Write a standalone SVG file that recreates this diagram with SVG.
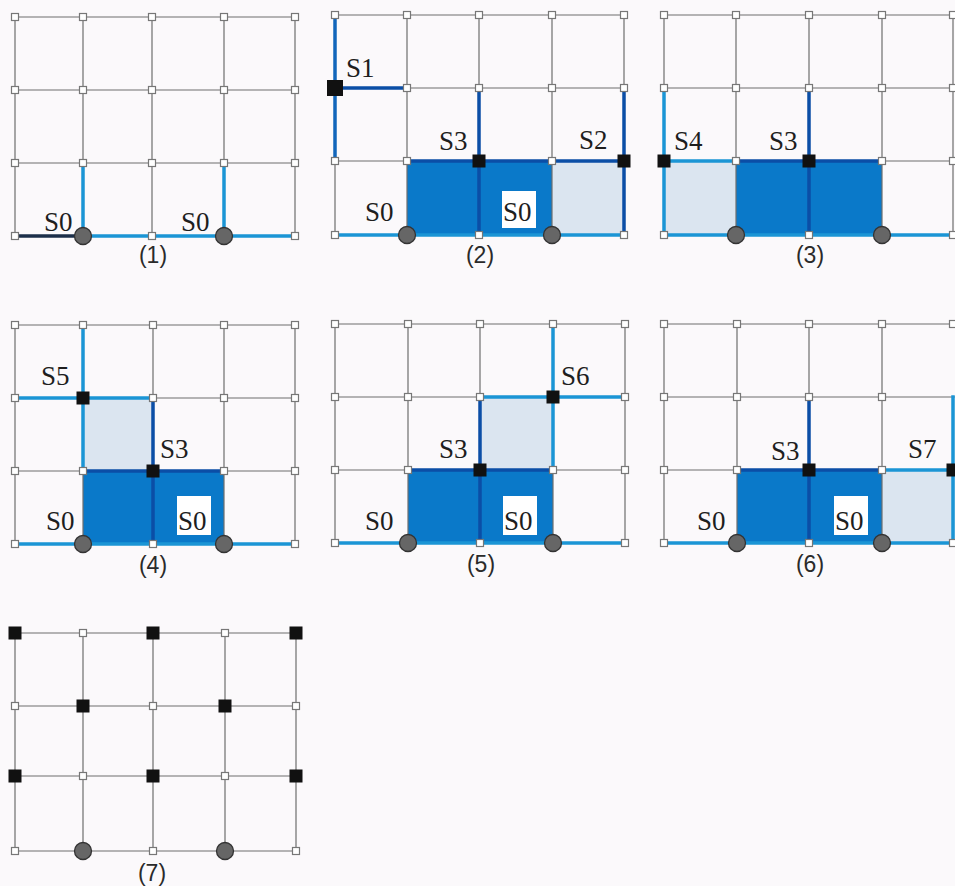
<svg xmlns="http://www.w3.org/2000/svg" xmlns:xlink="http://www.w3.org/1999/xlink" width="955" height="886" viewBox="0 0 955 886">
<style>
.bg{fill:#fbf9fb}
.grid{fill:none;stroke:#6e6e6e;stroke-width:1.2}
.lb{fill:none;stroke:#1b95d5;stroke-width:3.5;stroke-linecap:square}
.db{fill:none;stroke:#0b4ea6;stroke-width:3.5;stroke-linecap:square}
.nv{fill:none;stroke:#1c2f4a;stroke-width:3.5}
.df{fill:#0a79c9}
.lf{fill:#dbe5f0}
.s{font-family:"Liberation Serif","Times New Roman",serif;font-size:27px;fill:#1e1e1e}
.c{font-family:"Liberation Sans",Arial,sans-serif;font-size:23px;fill:#2a2a2a;text-anchor:middle}
.box{fill:#ffffff}
</style>
<defs>
<rect id="w" x="-3.5" y="-3.5" width="7" height="7" fill="#ffffff" stroke="#777" stroke-width="1.2"/>
<rect id="b" x="-6.5" y="-6.5" width="13" height="13" fill="#111"/>
<rect id="bb" x="-8" y="-8" width="16" height="16" fill="#111"/>
<circle id="o" r="8.5" fill="#666" stroke="#333" stroke-width="1.3"/>
</defs>
<rect class="bg" x="0" y="0" width="955" height="886"/>

<!-- Panel 1 -->
<g id="panel1">
<g id="p1-connectors">
<path class="grid" d="M15 17H295M15 90H295M15 163H295M15 236H295M15 17V236M83 17V236M152 17V236M224 17V236M295 17V236"/>
<path class="nv" d="M15 236H83"/>
<path class="lb" d="M83 163V236H295M224 163V236"/>
</g>
<g id="p1-nodes">
<g id="p1-r0"><use xlink:href="#w" x="15" y="17"/><use xlink:href="#w" x="83" y="17"/><use xlink:href="#w" x="152" y="17"/><use xlink:href="#w" x="224" y="17"/><use xlink:href="#w" x="295" y="17"/></g>
<g id="p1-r1"><use xlink:href="#w" x="15" y="90"/><use xlink:href="#w" x="83" y="90"/><use xlink:href="#w" x="152" y="90"/><use xlink:href="#w" x="224" y="90"/><use xlink:href="#w" x="295" y="90"/></g>
<g id="p1-r2"><use xlink:href="#w" x="15" y="163"/><use xlink:href="#w" x="83" y="163"/><use xlink:href="#w" x="152" y="163"/><use xlink:href="#w" x="224" y="163"/><use xlink:href="#w" x="295" y="163"/></g>
<g id="p1-r3"><use xlink:href="#w" x="15" y="236"/><use xlink:href="#w" x="152" y="236"/><use xlink:href="#w" x="295" y="236"/></g>
<g id="p1-s0a"><use xlink:href="#o" x="83" y="236"/><text class="s" x="44" y="231">S0</text></g>
<g id="p1-s0b"><use xlink:href="#o" x="224" y="236"/><text class="s" x="181" y="231">S0</text></g>
</g>
<text class="c" x="153" y="263">(1)</text>
</g>

<!-- Panel 2 -->
<g id="panel2">
<rect class="df" x="407" y="161" width="145" height="74"/>
<rect class="lf" x="552" y="161" width="72" height="74"/>
<g id="p2-connectors">
<path class="grid" d="M335 15H624M335 88H624M335 161H624M335 235H624M335 15V235M407 15V235M479 15V235M552 15V235M624 15V235"/>
<path class="lb" d="M335 235H624"/>
<path stroke="#1266bb" stroke-width="3.5" fill="none" d="M335 15V161"/>
<path class="db" d="M335 88H407M479 88V235M407 161H624M624 88V235"/>
</g>
<g id="p2-nodes">
<g id="p2-r0"><use xlink:href="#w" x="335" y="15"/><use xlink:href="#w" x="407" y="15"/><use xlink:href="#w" x="479" y="15"/><use xlink:href="#w" x="552" y="15"/><use xlink:href="#w" x="624" y="15"/></g>
<g id="p2-r1"><use xlink:href="#w" x="407" y="88"/><use xlink:href="#w" x="479" y="88"/><use xlink:href="#w" x="552" y="88"/><use xlink:href="#w" x="624" y="88"/></g>
<g id="p2-r2"><use xlink:href="#w" x="335" y="161"/><use xlink:href="#w" x="407" y="161"/><use xlink:href="#w" x="552" y="161"/></g>
<g id="p2-r3"><use xlink:href="#w" x="335" y="235"/><use xlink:href="#w" x="479" y="235"/><use xlink:href="#w" x="624" y="235"/></g>
<g id="p2-s1"><use xlink:href="#bb" x="335" y="88"/><text class="s" x="346" y="77">S1</text></g>
<g id="p2-s3"><use xlink:href="#b" x="479" y="161"/><text class="s" x="439" y="150">S3</text></g>
<g id="p2-s2"><use xlink:href="#b" x="624" y="161"/><text class="s" x="579" y="149">S2</text></g>
<g id="p2-s0a"><use xlink:href="#o" x="407" y="235"/><text class="s" x="365" y="221">S0</text></g>
<g id="p2-s0b"><use xlink:href="#o" x="552" y="235"/><rect class="box" x="502" y="191" width="34" height="37"/><text class="s" x="503" y="221">S0</text></g>
</g>
<text class="c" x="480" y="263">(2)</text>
</g>

<!-- Panel 3 -->
<g id="panel3">
<rect class="lf" x="664" y="161" width="72" height="74"/>
<rect class="df" x="736" y="161" width="146" height="74"/>
<g id="p3-connectors">
<path class="grid" d="M664 15H955M664 88H955M664 161H955M664 235H955M664 15V235M736 15V235M809 15V235M882 15V235M953 15V235"/>
<path class="lb" d="M664 88V235H955M664 161H736"/>
<path class="db" d="M809 88V235M736 161H882"/>
</g>
<g id="p3-nodes">
<g id="p3-r0"><use xlink:href="#w" x="664" y="15"/><use xlink:href="#w" x="736" y="15"/><use xlink:href="#w" x="809" y="15"/><use xlink:href="#w" x="882" y="15"/><use xlink:href="#w" x="953" y="15"/></g>
<g id="p3-r1"><use xlink:href="#w" x="664" y="88"/><use xlink:href="#w" x="736" y="88"/><use xlink:href="#w" x="809" y="88"/><use xlink:href="#w" x="882" y="88"/><use xlink:href="#w" x="953" y="88"/></g>
<g id="p3-r2"><use xlink:href="#w" x="736" y="161"/><use xlink:href="#w" x="882" y="161"/><use xlink:href="#w" x="953" y="161"/></g>
<g id="p3-r3"><use xlink:href="#w" x="664" y="235"/><use xlink:href="#w" x="809" y="235"/><use xlink:href="#w" x="953" y="235"/></g>
<g id="p3-s4"><use xlink:href="#b" x="664" y="161"/><text class="s" x="674" y="150">S4</text></g>
<g id="p3-s3"><use xlink:href="#b" x="809" y="161"/><text class="s" x="769" y="150">S3</text></g>
<g id="p3-o1"><use xlink:href="#o" x="736" y="235"/></g>
<g id="p3-o2"><use xlink:href="#o" x="882" y="235"/></g>
</g>
<text class="c" x="810" y="263">(3)</text>
</g>

<!-- Panel 4 -->
<g id="panel4">
<rect class="lf" x="83" y="398" width="70" height="73"/>
<rect class="df" x="83" y="471" width="141" height="73"/>
<g id="p4-connectors">
<path class="grid" d="M15 325H295M15 398H295M15 471H295M15 544H295M15 325V544M83 325V544M153 325V544M224 325V544M295 325V544"/>
<path class="lb" d="M83 325V471M15 398H153M15 544H295"/>
<path class="db" d="M153 398V544M83 471H224"/>
</g>
<g id="p4-nodes">
<g id="p4-r0"><use xlink:href="#w" x="15" y="325"/><use xlink:href="#w" x="83" y="325"/><use xlink:href="#w" x="153" y="325"/><use xlink:href="#w" x="224" y="325"/><use xlink:href="#w" x="295" y="325"/></g>
<g id="p4-r1"><use xlink:href="#w" x="15" y="398"/><use xlink:href="#w" x="153" y="398"/><use xlink:href="#w" x="224" y="398"/><use xlink:href="#w" x="295" y="398"/></g>
<g id="p4-r2"><use xlink:href="#w" x="15" y="471"/><use xlink:href="#w" x="83" y="471"/><use xlink:href="#w" x="224" y="471"/><use xlink:href="#w" x="295" y="471"/></g>
<g id="p4-r3"><use xlink:href="#w" x="15" y="544"/><use xlink:href="#w" x="153" y="544"/><use xlink:href="#w" x="295" y="544"/></g>
<g id="p4-s5"><use xlink:href="#b" x="83" y="398"/><text class="s" x="41" y="385">S5</text></g>
<g id="p4-s3"><use xlink:href="#b" x="153" y="471"/><text class="s" x="160" y="458">S3</text></g>
<g id="p4-s0a"><use xlink:href="#o" x="83" y="544"/><text class="s" x="46" y="530">S0</text></g>
<g id="p4-s0b"><use xlink:href="#o" x="224" y="544"/><rect class="box" x="177" y="496" width="34" height="39"/><text class="s" x="178" y="530">S0</text></g>
</g>
<text class="c" x="153" y="573">(4)</text>
</g>

<!-- Panel 5 -->
<g id="panel5">
<rect class="lf" x="480" y="397" width="73" height="73"/>
<rect class="df" x="408" y="470" width="145" height="73"/>
<g id="p5-connectors">
<path class="grid" d="M335 324H625M335 397H625M335 470H625M335 543H625M335 324V543M408 324V543M480 324V543M553 324V543M625 324V543"/>
<path class="lb" d="M553 324V470M480 397H625M335 543H625"/>
<path class="db" d="M480 397V543M408 470H553"/>
</g>
<g id="p5-nodes">
<g id="p5-r0"><use xlink:href="#w" x="335" y="324"/><use xlink:href="#w" x="408" y="324"/><use xlink:href="#w" x="480" y="324"/><use xlink:href="#w" x="553" y="324"/><use xlink:href="#w" x="625" y="324"/></g>
<g id="p5-r1"><use xlink:href="#w" x="335" y="397"/><use xlink:href="#w" x="408" y="397"/><use xlink:href="#w" x="480" y="397"/><use xlink:href="#w" x="625" y="397"/></g>
<g id="p5-r2"><use xlink:href="#w" x="335" y="470"/><use xlink:href="#w" x="408" y="470"/><use xlink:href="#w" x="553" y="470"/><use xlink:href="#w" x="625" y="470"/></g>
<g id="p5-r3"><use xlink:href="#w" x="335" y="543"/><use xlink:href="#w" x="480" y="543"/><use xlink:href="#w" x="625" y="543"/></g>
<g id="p5-s6"><use xlink:href="#b" x="553" y="397"/><text class="s" x="561" y="385">S6</text></g>
<g id="p5-s3"><use xlink:href="#b" x="480" y="470"/><text class="s" x="439" y="458">S3</text></g>
<g id="p5-s0a"><use xlink:href="#o" x="408" y="543"/><text class="s" x="365" y="530">S0</text></g>
<g id="p5-s0b"><use xlink:href="#o" x="553" y="543"/><rect class="box" x="503" y="496" width="34" height="39"/><text class="s" x="504" y="530">S0</text></g>
</g>
<text class="c" x="481" y="572">(5)</text>
</g>

<!-- Panel 6 -->
<g id="panel6">
<rect class="df" x="737" y="470" width="145" height="73"/>
<rect class="lf" x="882" y="470" width="73" height="73"/>
<g id="p6-connectors">
<path class="grid" d="M664 324H955M664 397H955M664 470H955M664 543H955M664 324V543M737 324V543M809 324V543M882 324V543"/>
<path class="lb" d="M882 470H955M953 397V543M664 543H955"/>
<path class="db" d="M809 397V543M737 470H882"/>
</g>
<g id="p6-nodes">
<g id="p6-r0"><use xlink:href="#w" x="664" y="324"/><use xlink:href="#w" x="737" y="324"/><use xlink:href="#w" x="809" y="324"/><use xlink:href="#w" x="882" y="324"/><use xlink:href="#w" x="953" y="324"/></g>
<g id="p6-r1"><use xlink:href="#w" x="664" y="397"/><use xlink:href="#w" x="737" y="397"/><use xlink:href="#w" x="809" y="397"/><use xlink:href="#w" x="882" y="397"/></g>
<g id="p6-r2"><use xlink:href="#w" x="664" y="470"/><use xlink:href="#w" x="737" y="470"/><use xlink:href="#w" x="882" y="470"/></g>
<g id="p6-r3"><use xlink:href="#w" x="664" y="543"/><use xlink:href="#w" x="809" y="543"/><use xlink:href="#w" x="953" y="543"/></g>
<g id="p6-s3"><use xlink:href="#b" x="809" y="470"/><text class="s" x="771" y="460">S3</text></g>
<g id="p6-s7"><use xlink:href="#b" x="953" y="470"/><text class="s" x="908" y="458">S7</text></g>
<g id="p6-s0a"><use xlink:href="#o" x="737" y="543"/><text class="s" x="697" y="530">S0</text></g>
<g id="p6-s0b"><use xlink:href="#o" x="882" y="543"/><rect class="box" x="834" y="496" width="34" height="39"/><text class="s" x="835" y="530">S0</text></g>
</g>
<text class="c" x="810" y="572">(6)</text>
</g>

<!-- Panel 7 -->
<g id="panel7">
<g id="p7-connectors">
<path class="grid" d="M15 633H296M15 706H296M15 776H296M15 851H296M15 633V851M83 633V851M153 633V851M225 633V851M296 633V851"/>
</g>
<g id="p7-nodes">
<g id="p7-n00"><use xlink:href="#b" x="15" y="633"/></g>
<g id="p7-n01"><use xlink:href="#w" x="83" y="633"/></g>
<g id="p7-n02"><use xlink:href="#b" x="153" y="633"/></g>
<g id="p7-n03"><use xlink:href="#w" x="225" y="633"/></g>
<g id="p7-n04"><use xlink:href="#b" x="296" y="633"/></g>
<g id="p7-n10"><use xlink:href="#w" x="15" y="706"/></g>
<g id="p7-n11"><use xlink:href="#b" x="83" y="706"/></g>
<g id="p7-n12"><use xlink:href="#w" x="153" y="706"/></g>
<g id="p7-n13"><use xlink:href="#b" x="225" y="706"/></g>
<g id="p7-n14"><use xlink:href="#w" x="296" y="706"/></g>
<g id="p7-n20"><use xlink:href="#b" x="15" y="776"/></g>
<g id="p7-n21"><use xlink:href="#w" x="83" y="776"/></g>
<g id="p7-n22"><use xlink:href="#b" x="153" y="776"/></g>
<g id="p7-n23"><use xlink:href="#w" x="225" y="776"/></g>
<g id="p7-n24"><use xlink:href="#b" x="296" y="776"/></g>
<g id="p7-n30"><use xlink:href="#w" x="15" y="851"/></g>
<g id="p7-n31"><use xlink:href="#o" x="83" y="851"/></g>
<g id="p7-n32"><use xlink:href="#w" x="153" y="851"/></g>
<g id="p7-n33"><use xlink:href="#o" x="225" y="851"/></g>
<g id="p7-n34"><use xlink:href="#w" x="296" y="851"/></g>
</g>
<text class="c" x="152" y="881">(7)</text>
</g>
</svg>
